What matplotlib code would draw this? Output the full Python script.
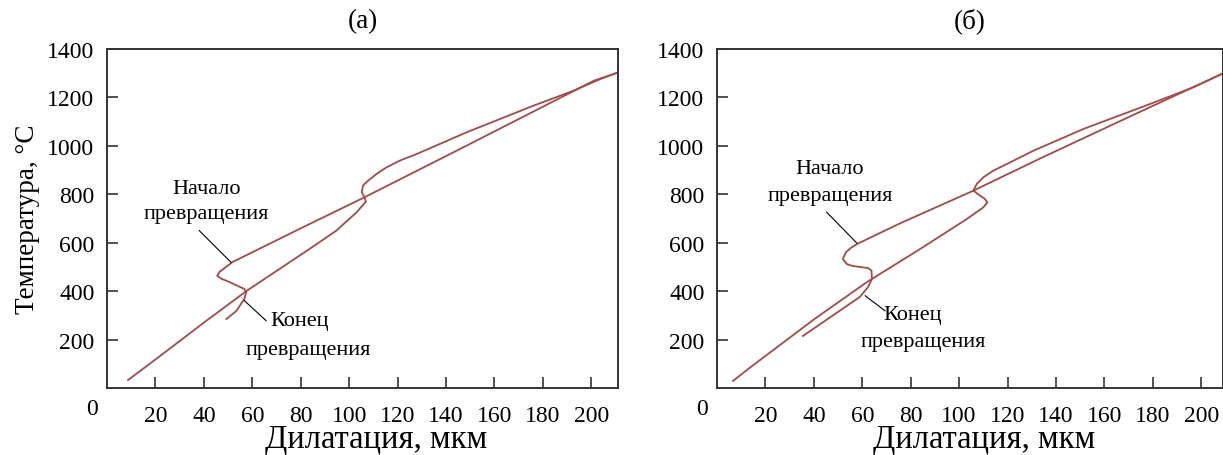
"""
Dilatometric curves (heating / cooling) for two samples, panels (a) and (б).
Writes out.png.
"""
import matplotlib
matplotlib.use("Agg")
import matplotlib.pyplot as plt

plt.rcParams["font.family"] = ["Liberation Serif", "DejaVu Serif"]

# panel (a): heating branch
heat_a_x = [8.7, 20.3, 40, 57.5, 83.6, 94.7, 103, 106.9, 106.2, 105.2, 105.7, 107.8,
            111.3, 115.4, 120.9, 127.8, 148.5, 176.1, 192.7, 203.7, 211.3]
heat_a_y = [33, 120, 270, 400, 574, 650, 725, 770, 790, 808, 836, 856,
            884, 911, 939, 966, 1056, 1166, 1228, 1276, 1304]
# panel (a): cooling branch
cool_a_x = [211.3, 201, 148.5, 106.4, 79.5, 51.8, 48.5, 46.4, 45.5, 47.5, 50.5,
            56.7, 57.5, 56.7, 53.4, 49.3]
cool_a_y = [1304, 1269, 1001, 788, 657, 520, 495, 479, 463, 450, 438,
            409, 396, 368, 318, 285]

# panel (б): heating branch
heat_b_x = [6.6, 13.6, 40, 62, 83.9, 103.2, 110, 111.7, 110.5, 108.7, 105.9, 107.3,
            110, 114.2, 121.1, 130.7, 151.4, 178.9, 196.8, 208.5]
heat_b_y = [29, 84, 283, 438, 574, 698, 746, 767, 782, 794, 815, 843,
            870, 898, 932, 980, 1070, 1173, 1242, 1297]
# panel (б): cooling branch
cool_b_x = [208.5, 172, 133.5, 105.9, 75.6, 57.9, 55.2, 53.2, 52, 53.6, 56, 59, 62.5,
            63.8, 64, 62.4, 59, 35.5]
cool_b_y = [1297, 1128, 948, 815, 680, 595, 578, 560, 533, 512, 504, 500, 495,
            485, 450, 417, 376, 215]

x_ticks = [20, 40, 60, 80, 100, 120, 140, 160, 180, 200]
y_ticks = [200, 400, 600, 800, 1000, 1200, 1400]

LINE = "#a84848"
SPINE = "#333333"

fig = plt.figure(figsize=(12.23, 4.56), dpi=100)
ax_a = fig.add_axes([107 / 1223, 67 / 456, 511 / 1223, 339 / 456])
ax_b = fig.add_axes([717 / 1223, 67 / 456, 506 / 1223, 339 / 456])


def style(ax, xmax, title):
    ax.set_xlim(0, xmax)
    ax.set_ylim(0, 1400)
    ax.set_xticks(x_ticks)
    ax.set_yticks(y_ticks)
    ax.tick_params(direction="in", length=8, width=1.2, color=SPINE,
                   labelsize=17, pad=9)
    ax.tick_params(axis="x", pad=12)
    for s in ax.spines.values():
        s.set_color(SPINE)
        s.set_linewidth(1.4)
    # shared origin label, sits left of the corner
    ax.text(-6.3, -85, "0", ha="center", va="center", fontsize=17, clip_on=False)
    ax.set_title(title, fontsize=19.5, pad=16)
    ax.set_xlabel("Дилатация, мкм", fontsize=23.5)
    ax.xaxis.set_label_coords(0.527, -0.105)


style(ax_a, 211, "(a)")
style(ax_b, 209, "(б)")
ax_a.set_ylabel("Температура, °С", fontsize=19.5, labelpad=5)

ax_a.plot(heat_a_x, heat_a_y, color=LINE, lw=1.3)
ax_a.plot(cool_a_x, cool_a_y, color=LINE, lw=1.3)
ax_b.plot(heat_b_x, heat_b_y, color=LINE, lw=1.3)
ax_b.plot(cool_b_x, cool_b_y, color=LINE, lw=1.3)

# annotations, panel (a)
ax_a.text(41, 822, "Начало", ha="center", va="center", fontsize=16)
ax_a.text(41, 719, "превращения", ha="center", va="center", fontsize=16)
ax_a.plot([38.1, 51.2], [650, 519], color="black", lw=0.8)
ax_a.text(79.5, 277, "Конец", ha="center", va="center", fontsize=16)
ax_a.text(83.2, 161, "превращения", ha="center", va="center", fontsize=16)
ax_a.plot([65.7, 56.7], [278, 361], color="black", lw=0.8)

# annotations, panel (б)
ax_b.text(46.7, 905, "Начало", ha="center", va="center", fontsize=16)
ax_b.text(46.7, 797, "превращения", ha="center", va="center", fontsize=16)
ax_b.plot([45.3, 57.7], [726, 599], color="black", lw=0.8)
ax_b.text(80.6, 302, "Конец", ha="center", va="center", fontsize=16)
ax_b.text(85.1, 194, "превращения", ha="center", va="center", fontsize=16)
ax_b.plot([69.4, 61.2], [319, 381], color="black", lw=0.8)

fig.savefig("out.png", dpi=100)
